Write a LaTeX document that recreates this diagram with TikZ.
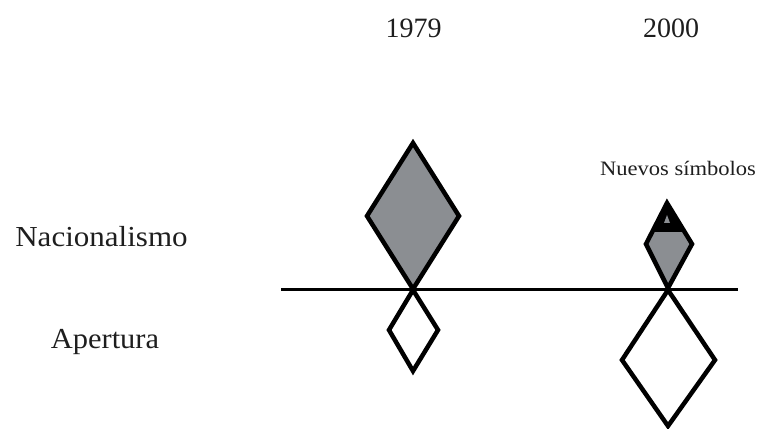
\documentclass[tikz,border=0pt]{standalone}
\usepackage{fontspec}
\setmainfont{Liberation Serif}
\definecolor{dgray}{RGB}{139,142,146}
\definecolor{txt}{RGB}{30,30,30}
\begin{document}
\begin{tikzpicture}[x=1pt,y=1pt,
  lbl/.style={anchor=base,inner sep=0pt,text=txt,font=\fontsize{29}{30}\selectfont},
  year/.style={anchor=base,inner sep=0pt,text=txt,font=\fontsize{28}{30}\selectfont},
  small/.style={anchor=base,inner sep=0pt,text=txt,font=\fontsize{20.5}{22}\selectfont},
  dia/.style={draw=black,line width=4.5pt,line join=miter},
  axis/.style={draw=black,line width=3pt}]
\useasboundingbox (0,0) rectangle (759,428);
% texts
\node[year] (y79) at (413.5,390) {1979};
\node[year] (y00) at (671,390) {2000};
\node[small,xscale=1.1] (nuevos) at (678,252) {Nuevos símbolos};
\node[lbl,xscale=1.07] (nac) at (101.5,181) {Nacionalismo};
\node[lbl,xscale=1.05] (ape) at (105,80) {Apertura};
% coordinates (y = 428 - image y)
\coordinate (a1t) at (413,285);
\coordinate (a1l) at (367,212);
\coordinate (a1r) at (459,212);
\coordinate (a1b) at (413,139);
\coordinate (b1t) at (413,138);
\coordinate (b1l) at (389,98);
\coordinate (b1r) at (438,98);
\coordinate (b1b) at (413,57);
\coordinate (a2t) at (667,225);
\coordinate (a2l) at (646,184);
\coordinate (a2r) at (692,184);
\coordinate (a2b) at (668,140);
\coordinate (b2t) at (668,138);
\coordinate (b2l) at (622,68);
\coordinate (b2r) at (715,68);
\coordinate (b2b) at (668,2);
\coordinate (ls) at (281,138);
\coordinate (le) at (738,138);
% diamonds 1979
\path[dia,fill=dgray] (a1t) -- (a1r) -- (a1b) -- (a1l) -- cycle;
\path[dia,fill=white] (b1t) -- (b1r) -- (b1b) -- (b1l) -- cycle;
% diamonds 2000
\path[fill=dgray] (a2t) -- (a2r) -- (a2b) -- (a2l) -- cycle;
\begin{scope}
  \clip (600,196) rectangle (740,240);
  \fill[black] (a2t) -- (a2r) -- (a2b) -- (a2l) -- cycle;
\end{scope}
\fill[dgray] (664,205) -- (670,205) -- (667,213) -- cycle;
\path[dia] (a2t) -- (a2r) -- (a2b) -- (a2l) -- cycle;
\path[dia,fill=white] (b2t) -- (b2r) -- (b2b) -- (b2l) -- cycle;
% axis
\draw[axis] (ls) -- (le);
\end{tikzpicture}
\end{document}
